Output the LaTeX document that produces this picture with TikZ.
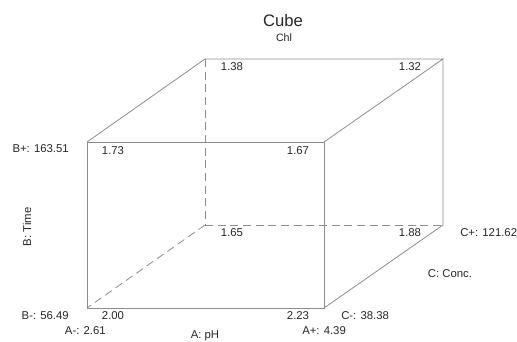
\documentclass[tikz,border=0pt]{standalone}
\usepackage{fontspec}
\setmainfont{Liberation Sans}
\usetikzlibrary{positioning}

\begin{document}
\begin{tikzpicture}[
  x=0.75pt,y=-0.75pt,
  edge/.style={draw=black!45,line width=0.6pt},
  hidden/.style={edge,dash pattern=on 6pt off 3.5pt},
  lbl/.style={font=\fontsize{8.5}{10}\selectfont,text=black!85,inner sep=0pt},
  val/.style={lbl},
  ttl/.style={font=\fontsize{12.5}{14}\selectfont,text=black!85,inner sep=0pt}
]
  \useasboundingbox (0,0) rectangle (517,342);

  % Corners of the cube
  \coordinate (fbl) at (87,308);
  \coordinate (fbr) at (324,308);
  \coordinate (ftl) at (87,142);
  \coordinate (ftr) at (324,142);
  \coordinate (bbl) at (205,225);
  \coordinate (bbr) at (443,225);
  \coordinate (btl) at (205,59);
  \coordinate (btr) at (443,59);

  % Visible edges
  \draw[edge] (fbl) -- (fbr) -- (ftr) -- (ftl) -- cycle;
  \draw[edge] (ftl) -- (btl) -- (btr) -- (ftr);
  \draw[edge] (btr) -- (bbr) -- (fbr);

  % Hidden edges
  \draw[hidden] (btl) -- (bbl);
  \draw[hidden] (bbl) -- (bbr);
  \draw[hidden] (bbl) -- (fbl);

  % Title
  \node[ttl] (title) at (283,21) {Cube};
  \node[lbl,font=\fontsize{8}{9}\selectfont] (resp) at (284,38) {Chl};

  % Corner values
  \node[val] (v138) at (232,67) {1.38};
  \node[val] (v132) at (410,67) {1.32};
  \node[val] (v173) at (113,151) {1.73};
  \node[val] (v167) at (298,151) {1.67};
  \node[val] (v165) at (232,233) {1.65};
  \node[val] (v188) at (410,233) {1.88};
  \node[val] (v200) at (113,316) {2.00};
  \node[val] (v223) at (298,316) {2.23};

  % Factor levels
  \node[lbl,anchor=east] (bplus) at (69,149) {B+: 163.51};
  \node[lbl,anchor=east] (bminus) at (69,316) {B-: 56.49};
  \node[lbl,anchor=east] (aminus) at (106,331) {A-: 2.61};
  \node[lbl,anchor=west] (aplus) at (302,331) {A+: 4.39};
  \node[lbl,anchor=west] (cminus) at (341,316) {C-: 38.38};
  \node[lbl,anchor=west] (cplus) at (460,233) {C+: 121.62};

  % Axis names
  \node[lbl] (aname) at (205,336) {A: pH};
  \node[lbl,rotate=90] (bname) at (27,227) {B: Time};
  \node[lbl] (cname) at (450,274) {C: Conc.};
\end{tikzpicture}
\end{document}
